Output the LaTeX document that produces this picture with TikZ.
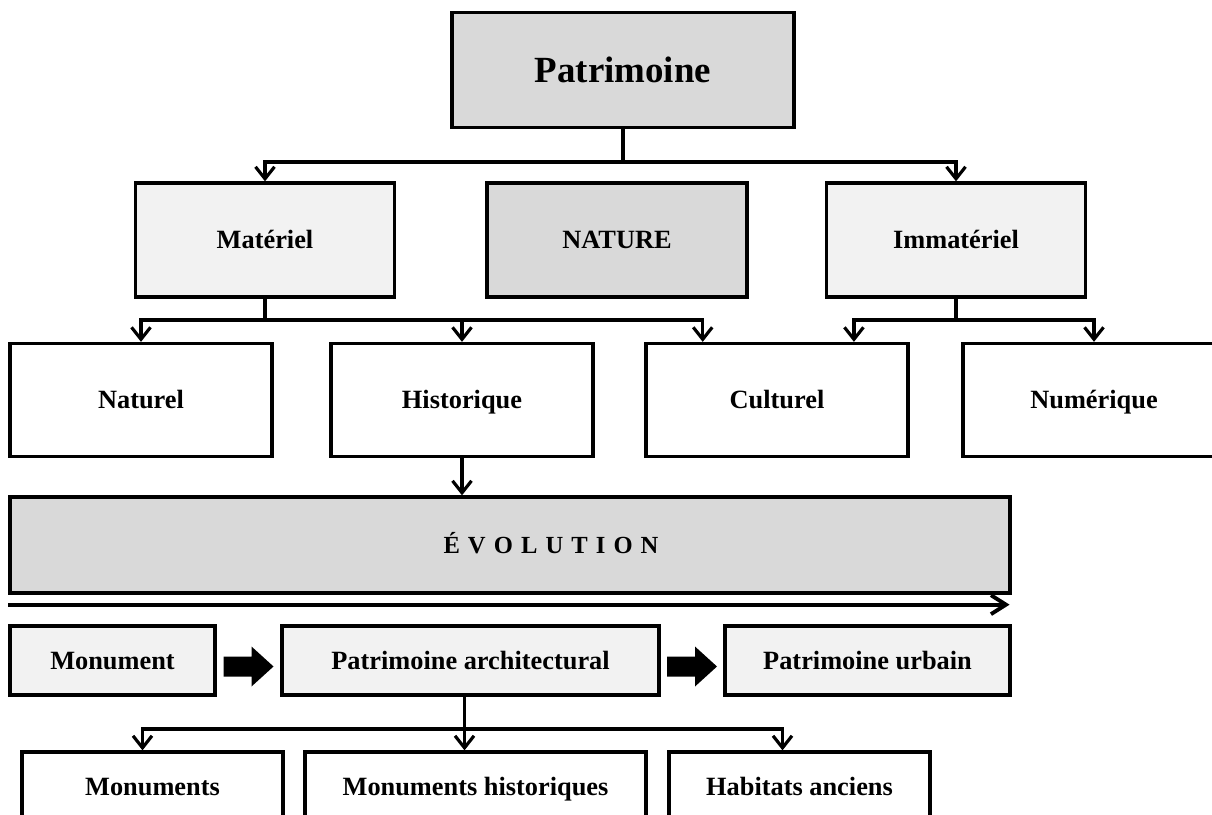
\documentclass[tikz,border=0pt]{standalone}
\usepackage{fontspec}
\setmainfont{Liberation Serif}
\usetikzlibrary{arrows.meta,calc}
\definecolor{grisfonce}{HTML}{D9D9D9}
\definecolor{grisclair}{HTML}{F2F2F2}
\tikzset{
  boite/.style={draw, line width=1.9pt, inner sep=0pt, fill=white,
    text height=10pt, text depth=0pt,
    font=\bfseries\fontsize{15}{18}\selectfont},
  fonce/.style={boite, fill=grisfonce},
  clair/.style={boite, fill=grisclair},
  lien/.style={line width=1.8pt},
  fleche/.style={lien, -{Straight Barb[length=2.4mm,width=3.8mm]}},
  grandefleche/.style={line width=2.2pt, -{Straight Barb[length=3mm,width=3.8mm]}},
}
\begin{document}
\begin{tikzpicture}[x=0.02cm, y=-0.02cm]
    \useasboundingbox (0,0) rectangle (1212,814);
    \clip (0,0) rectangle (1212,814);
    \node[fonce, minimum width=6.84cm, minimum height=2.3cm, text height=14pt,
          font=\bfseries\fontsize{21}{25}\selectfont] (patrimoine) at (623,70) {Patrimoine};

    \node[clair, minimum width=5.18cm, minimum height=2.28cm] (materiel)   at (265,240) {Matériel};
    \node[fonce, minimum width=5.2cm,  minimum height=2.28cm] (nature)     at (617,240) {NATURE};
    \node[clair, minimum width=5.18cm, minimum height=2.28cm] (immateriel) at (956,240) {Immatériel};

    \node[boite, minimum width=5.24cm, minimum height=2.26cm] (naturel)    at (141,400)  {Naturel};
    \node[boite, minimum width=5.24cm, minimum height=2.26cm] (historique) at (462,400)  {Historique};
    \node[boite, minimum width=5.24cm, minimum height=2.26cm] (culturel)   at (777,400)  {Culturel};
    \node[boite, minimum width=5.24cm, minimum height=2.26cm] (numerique)  at (1094,400) {Numérique};

    \node[fonce, minimum width=20cm, minimum height=1.92cm] (evolution) at (510,545) {};
    \node[font=\bfseries\fontsize{14}{17}\selectfont, text height=10pt, text depth=0pt] (evotexte) at (551,545)
        {É\hspace{4.6pt}V\hspace{4.6pt}O\hspace{4.6pt}L\hspace{4.6pt}U\hspace{4.6pt}T\hspace{4.6pt}I\hspace{4.6pt}O\hspace{4.6pt}N};

    \node[clair, minimum width=4.1cm,  minimum height=1.38cm] (monument)  at (112.5,660.5) {Monument};
    \node[clair, minimum width=7.54cm, minimum height=1.38cm] (patarchi)  at (470.5,660.5) {Patrimoine architectural};
    \node[clair, minimum width=5.7cm,  minimum height=1.38cm] (paturbain) at (867.5,660.5) {Patrimoine urbain};

    \node[boite, minimum width=5.22cm, minimum height=1.4cm] (monuments) at (152.5,787) {Monuments};
    \node[boite, minimum width=6.82cm, minimum height=1.4cm] (monhist)   at (475.5,787) {Monuments historiques};
    \node[boite, minimum width=5.22cm, minimum height=1.4cm] (habitats)  at (799.5,787) {Habitats anciens};

    % Patrimoine
    \coordinate (bus1) at (0,162);
    \draw[lien]   (patrimoine.south) -- (patrimoine.south |- bus1);
    \draw[fleche] (patrimoine.south |- bus1) -| (materiel.north);
    \draw[fleche] (patrimoine.south |- bus1) -| (immateriel.north);

    % Materiel / Immateriel
    \coordinate (bus2) at (0,320);
    \draw[lien]   (materiel.south) -- (materiel.south |- bus2);
    \draw[fleche] (materiel.south |- bus2) -| (naturel.north);
    \draw[fleche] (materiel.south |- bus2) -| (historique.north);
    \draw[fleche] (materiel.south |- bus2) -| ($(culturel.north west)!0.22!(culturel.north east)$);
    \draw[lien]   (immateriel.south) -- (immateriel.south |- bus2);
    \draw[fleche] (immateriel.south |- bus2) -| ($(culturel.north west)!0.79!(culturel.north east)$);
    \draw[fleche] (immateriel.south |- bus2) -| (numerique.north);

    \draw[fleche] (historique.south) -- (historique.south |- evolution.north);
    \draw[grandefleche] ($(evolution.south west)+(0,10)$) -- ($(evolution.south east)+(-2,10)$);

    % fleches pleines
    \coordinate (f1) at ($($(monument.east)!0.5!(patarchi.west)$)+(0,6)$);
    \coordinate (f2) at ($($(patarchi.east)!0.5!(paturbain.west)$)+(0,6)$);
    \fill (f1) ++(-25,-10) -- ++(28,0) -- ++(0,-10) -- ++(22,20) -- ++(-22,20) -- ++(0,-10) -- ++(-28,0) -- cycle;
    \fill (f2) ++(-25,-10) -- ++(28,0) -- ++(0,-10) -- ++(22,20) -- ++(-22,20) -- ++(0,-10) -- ++(-28,0) -- cycle;

    % Patrimoine architectural
    \coordinate (bus3) at (0,729);
    \coordinate (tige) at ($(patarchi.south)+(-6,0)$);
    \draw[lien]   (tige) -- (tige |- bus3);
    \draw[fleche] (tige |- bus3) -| ($(monuments.north)+(-10,0)$);
    \draw[fleche] (tige |- bus3) -- (tige |- monhist.north);
    \draw[fleche] (tige |- bus3) -| ($(habitats.north)+(-17,0)$);
\end{tikzpicture}
\end{document}
